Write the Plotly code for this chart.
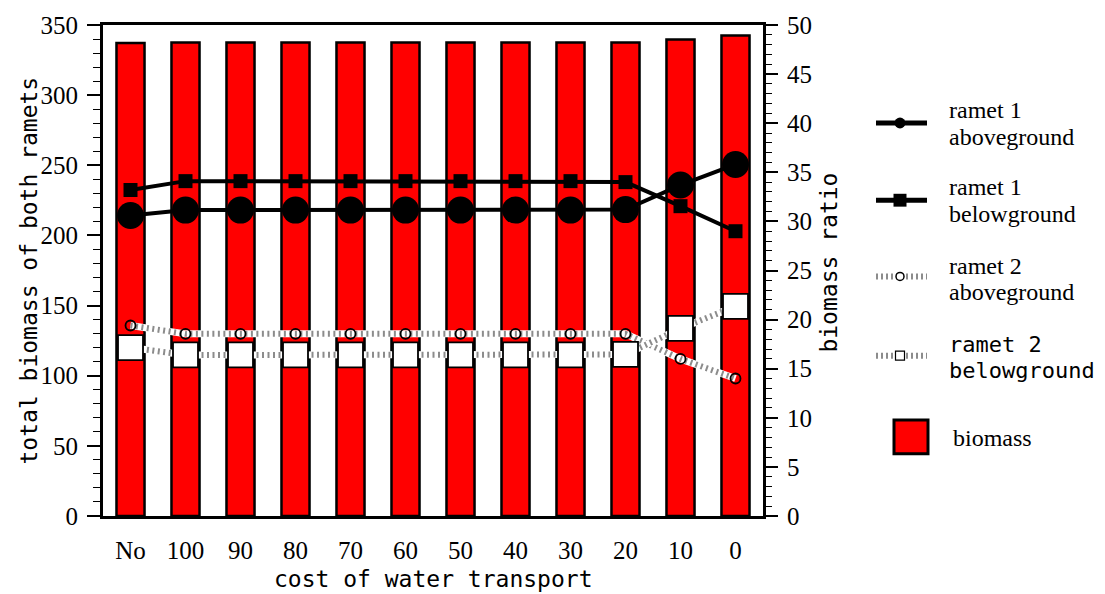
import plotly.graph_objects as go

# Water-transport cost treatments
categories = ["No", "100", "90", "80", "70", "60", "50", "40", "30", "20", "10", "0"]

# Total biomass of both ramets (left axis)
biomass = [337.2, 337.5, 337.5, 337.5, 337.5, 337.5, 337.5, 337.5, 337.5, 337.6, 339.6, 342.6]

# Biomass ratio of each part (right axis, %)
ramet1_above = [30.6, 31.15, 31.15, 31.15, 31.15, 31.15, 31.15, 31.15, 31.15, 31.2, 33.7, 35.8]
ramet1_below = [33.2, 34.1, 34.1, 34.1, 34.1, 34.1, 34.1, 34.1, 34.1, 34.0, 31.55, 29.0]
ramet2_above = [19.4, 18.55, 18.55, 18.55, 18.55, 18.55, 18.55, 18.55, 18.55, 18.55, 16.0, 14.0]
ramet2_below = [17.15, 16.4, 16.4, 16.4, 16.4, 16.4, 16.4, 16.4, 16.4, 16.45, 19.1, 21.35]

left_ticks = [0, 50, 100, 150, 200, 250, 300, 350]
right_ticks = [0, 5, 10, 15, 20, 25, 30, 35, 40, 45, 50]

# Page geometry (pixels)
FIG_W, FIG_H = 1105, 594
L, T, R, B = 103, 20, 763, 516
W, H = R - L, B - T

TICK_FONT = dict(family="Liberation Serif", size=25, color="black")
TITLE_FONT = dict(family="DejaVu Sans Mono", size=23, color="black")
LEG_FONT = dict(family="Liberation Serif", size=24, color="black")
LEG_FONT_BOLD = dict(family="DejaVu Sans Mono", size=22, color="black")


def px_x(px):
    return (px - L) / W


def px_y(py):
    return 1 - (py - T) / H


xs = list(range(len(categories)))

fig = go.Figure()

fig.add_trace(go.Bar(
    x=xs, y=biomass, width=0.51, yaxis="y",
    marker=dict(color="#ff0000", line=dict(color="black", width=2.5)),
    name="biomass",
))


def dotted(y, symbol, size, fill, lw):
    # white band under a grey dotted line, markers on top
    fig.add_trace(go.Scatter(
        x=xs, y=y, yaxis="y2", mode="lines",
        line=dict(color="white", width=7), hoverinfo="skip",
    ))
    fig.add_trace(go.Scatter(
        x=xs, y=y, yaxis="y2", mode="lines+markers",
        line=dict(color="#8c8c8c", width=6, dash="2px,3.5px"),
        marker=dict(symbol=symbol, size=size, color=fill,
                    line=dict(color="black", width=lw)),
    ))


dotted(ramet2_above, "circle", 10, "rgba(0,0,0,0)", 1.8)
dotted(ramet2_below, "square", 25, "white", 1.8)

fig.add_trace(go.Scatter(
    x=xs, y=ramet1_below, yaxis="y2", mode="lines+markers",
    line=dict(color="black", width=4),
    marker=dict(symbol="square", size=14, color="black"),
))
fig.add_trace(go.Scatter(
    x=xs, y=ramet1_above, yaxis="y2", mode="lines+markers",
    line=dict(color="black", width=4),
    marker=dict(symbol="circle", size=27, color="black"),
))

shapes = []
annotations = []


# Legend: line samples
def leg_line(py, dashed):
    if dashed:
        shapes.append(dict(type="line", xref="paper", yref="paper",
                           x0=px_x(876), x1=px_x(927), y0=px_y(py), y1=px_y(py),
                           line=dict(color="#8c8c8c", width=6, dash="2px,3px")))
    else:
        shapes.append(dict(type="line", xref="paper", yref="paper",
                           x0=px_x(876), x1=px_x(927), y0=px_y(py), y1=px_y(py),
                           line=dict(color="black", width=5)))


def leg_box(kind, cx, cy, size, fill, lw):
    shapes.append(dict(type=kind, xref="paper", yref="paper",
                       x0=px_x(cx - size / 2), x1=px_x(cx + size / 2),
                       y0=px_y(cy + size / 2), y1=px_y(cy - size / 2),
                       fillcolor=fill, line=dict(color="black", width=lw)))


leg_line(119, False)
leg_box("circle", 900, 119, 11, "black", 0)
leg_line(197, False)
leg_box("rect", 900, 197, 13, "black", 0)
leg_line(274, True)
leg_box("circle", 900, 274, 8, "white", 1.5)
leg_line(354, True)
leg_box("rect", 900, 354, 9, "white", 1.2)
shapes.append(dict(type="rect", xref="paper", yref="paper",
                   x0=px_x(894), x1=px_x(928), y0=px_y(453), y1=px_y(419),
                   fillcolor="#ff0000", line=dict(color="black", width=3)))


def leg_text(txt, py, font, px=947):
    annotations.append(dict(text=txt, xref="paper", yref="paper",
                            x=px_x(px), y=px_y(py), xanchor="left", yanchor="middle",
                            showarrow=False, font=font))


leg_text("ramet 1", 106, LEG_FONT)
leg_text("aboveground", 133, LEG_FONT)
leg_text("ramet 1", 184, LEG_FONT)
leg_text("belowground", 211, LEG_FONT)
leg_text("ramet 2", 263, LEG_FONT)
leg_text("aboveground", 290, LEG_FONT)
leg_text("ramet 2", 343, LEG_FONT_BOLD)
leg_text("belowground", 369, LEG_FONT_BOLD)
leg_text("biomass", 437, LEG_FONT, px=951)

# Axis titles
annotations.append(dict(text="total biomass of both ramets", xref="paper", yref="paper",
                        x=px_x(28), y=px_y(268), xanchor="center", yanchor="middle",
                        textangle=-90, showarrow=False, font=TITLE_FONT))
annotations.append(dict(text="biomass ratio", xref="paper", yref="paper",
                        x=px_x(829), y=px_y(260), xanchor="center", yanchor="middle",
                        textangle=-90, showarrow=False, font=TITLE_FONT))
annotations.append(dict(text="cost of water transport", xref="paper", yref="paper",
                        x=px_x(433), y=px_y(580), xanchor="center", yanchor="middle",
                        showarrow=False, font=TITLE_FONT))

fig.update_layout(
    width=FIG_W, height=FIG_H,
    margin=dict(l=L, r=FIG_W - R, t=T, b=FIG_H - B, pad=0),
    paper_bgcolor="white", plot_bgcolor="white",
    showlegend=False,
    xaxis=dict(
        range=[-0.5, len(categories) - 0.5],
        tickmode="array", tickvals=xs, ticktext=categories,
        ticks="", showgrid=False, zeroline=False,
        showline=True, linecolor="black", linewidth=3, mirror=True,
        tickfont=TICK_FONT, ticklabelstandoff=10,
    ),
    yaxis=dict(
        range=[0, 350], tickmode="array", tickvals=left_ticks,
        ticks="outside", ticklen=13, tickwidth=1.5, tickcolor="black",
        minor=dict(dtick=10, ticks="outside", ticklen=7, tickwidth=1.2, tickcolor="black"),
        showgrid=False, zeroline=False,
        showline=True, linecolor="black", linewidth=3,
        tickfont=TICK_FONT, ticklabelstandoff=4,
    ),
    yaxis2=dict(
        range=[0, 50], overlaying="y", side="right",
        tickmode="array", tickvals=right_ticks,
        ticks="outside", ticklen=12, tickwidth=1.5, tickcolor="black",
        minor=dict(dtick=1, ticks="outside", ticklen=6, tickwidth=1.2, tickcolor="black"),
        showgrid=False, zeroline=False,
        showline=True, linecolor="black", linewidth=3,
        tickfont=TICK_FONT, ticklabelstandoff=4,
    ),
    shapes=shapes,
    annotations=annotations,
)

fig.write_html("out.html")
